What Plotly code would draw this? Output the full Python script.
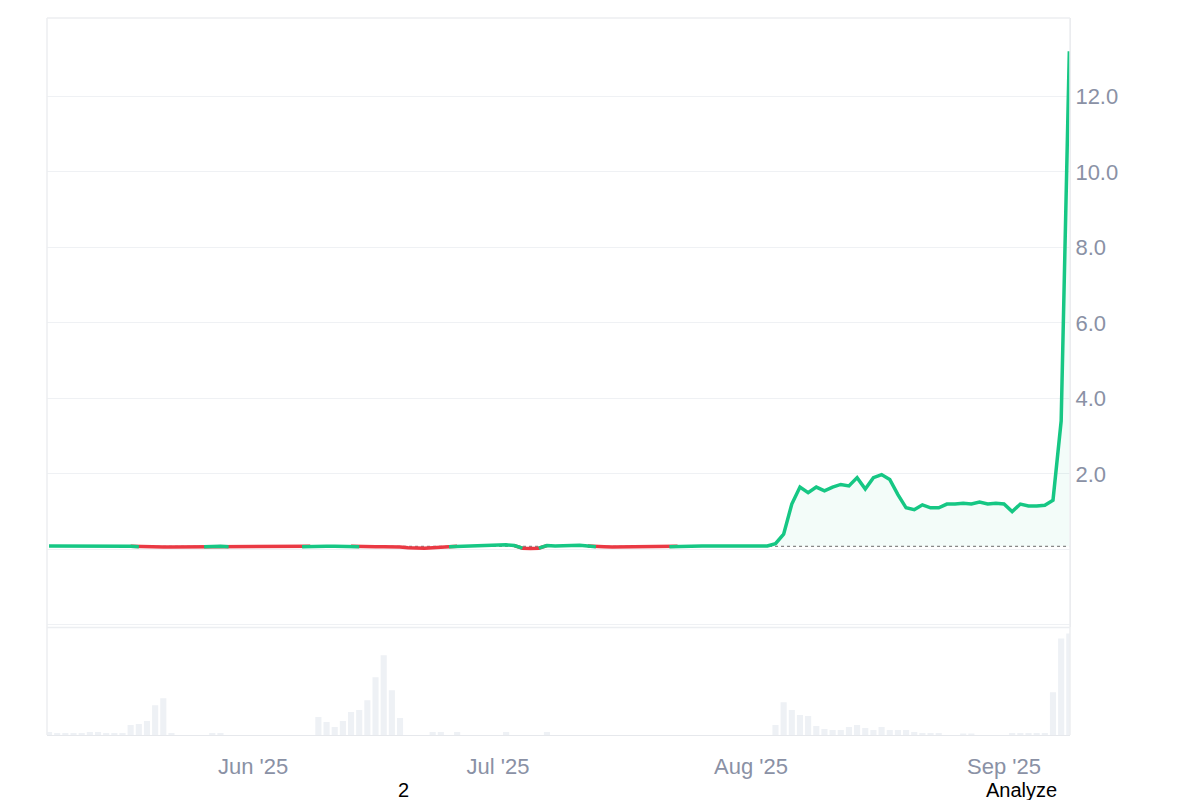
import pandas as pd
import plotly.graph_objects as go

dates = pd.date_range("2025-05-07", "2025-09-09", freq="D")
base_value = 0.08

price = [
    0.09, 0.09, 0.09, 0.09, 0.09, 0.09, 0.10, 0.10, 0.09, 0.09,
    0.08, 0.07, 0.07, 0.07, 0.06, 0.06, 0.06, 0.06, 0.07, 0.07,
    0.08, 0.08, 0.07, 0.07, 0.07, 0.07, 0.06, 0.07, 0.07, 0.07,
    0.07, 0.07, 0.08, 0.08, 0.08, 0.08, 0.08, 0.08, 0.07, 0.07,
    0.07, 0.07, 0.07, 0.06, 0.04, 0.03, 0.03, 0.04, 0.06, 0.07,
    0.08, 0.09, 0.10, 0.11, 0.12, 0.13, 0.12, 0.10, 0.03, 0.02,
    0.03, 0.10, 0.09, 0.10, 0.11, 0.11, 0.09, 0.07, 0.07, 0.06,
    0.06, 0.06, 0.06, 0.07, 0.07, 0.07, 0.07, 0.08, 0.08, 0.08,
    0.09, 0.09, 0.09, 0.09, 0.09, 0.09, 0.09, 0.09, 0.09, 0.15,
    0.40, 1.20, 1.65, 1.50, 1.65, 1.55, 1.65, 1.72, 1.68, 1.90,
    1.60, 1.90, 1.98, 1.85, 1.45, 1.10, 1.05, 1.18, 1.10, 1.10,
    1.20, 1.20, 1.22, 1.20, 1.25, 1.20, 1.22, 1.20, 1.00, 1.20,
    1.15, 1.15, 1.17, 1.30, 3.40, 13.20,
]

volume = [
    3, 2, 2, 2, 2, 3, 3, 2, 2, 2,
    10, 11, 14, 30, 37, 2, 0, 0, 0, 0,
    2, 2, 0, 0, 0, 0, 0, 0, 0, 0,
    0, 0, 0, 18, 13, 8, 14, 23, 25, 35,
    58, 80, 45, 17, 0, 0, 0, 3, 3, 0,
    3, 0, 0, 0, 0, 0, 3, 0, 0, 0,
    0, 3, 0, 0, 0, 0, 0, 0, 0, 0,
    0, 0, 0, 0, 0, 0, 0, 0, 0, 0,
    0, 0, 0, 0, 0, 0, 0, 0, 0, 10,
    33, 25, 20, 19, 9, 6, 5, 5, 8, 10,
    7, 5, 8, 5, 5, 5, 3, 2, 2, 2,
    0, 0, 1, 1, 0, 0, 0, 0, 2, 2,
    2, 2, 2, 43, 97, 102,
]

# split into green (above base) and red (below base) pieces
green, red = [], []
for i, v in enumerate(price):
    up = v >= base_value
    prev_up = price[i - 1] >= base_value if i > 0 else up
    next_up = price[i + 1] >= base_value if i < len(price) - 1 else up
    green.append(v if (up or prev_up or next_up) else None)
    red.append(v if (not up or not prev_up or not next_up) else None)

fig = go.Figure()
fig.add_trace(go.Bar(x=dates, y=volume, marker_color="#eef1f5", yaxis="y2",
                     marker_line_width=0, width=86400000 * 0.75))
fig.add_trace(go.Scatter(x=dates, y=[base_value] * len(dates), mode="lines",
                         line=dict(color="#888", width=1.3, dash="dot")))
fig.add_trace(go.Scatter(x=dates, y=[max(v, base_value) for v in price], mode="lines",
                         line=dict(width=0), fill="tonexty",
                         fillcolor="rgba(22,199,132,0.05)"))
fig.add_trace(go.Scatter(x=dates, y=red, mode="lines",
                         line=dict(color="#ea3943", width=3.5)))
fig.add_trace(go.Scatter(x=dates, y=green, mode="lines",
                         line=dict(color="#16c784", width=3.5)))

tick_font = dict(family="Liberation Sans, Arial", size=22, color="#8a91a5")
fig.update_layout(
    width=1200, height=800, showlegend=False,
    plot_bgcolor="white", paper_bgcolor="white",
    margin=dict(l=39, r=138, t=10, b=73, autoexpand=False),
    bargap=0.2,
    xaxis=dict(type="date", anchor="y2", range=["2025-05-06 18:00", "2025-09-09 02:00"],
               tickvals=["2025-06-01", "2025-07-01", "2025-08-01", "2025-09-01"],
               tickformat="%b '%y", tickfont=tick_font, showgrid=False,
               showline=True, linecolor="#e6e8ec", ticks="outside", ticklen=12,
               tickcolor="white"),
    yaxis=dict(domain=[0.15, 1], range=[-2.07, 14.08], side="right", anchor="x",
               tickvals=[-2, 0, 2, 4, 6, 8, 10, 12],
               ticktext=["", "", "2.0", "4.0", "6.0", "8.0", "10.0", "12.0"],
               tickfont=tick_font, gridcolor="#eff1f4", zeroline=False,
               showline=True, linecolor="#e6e8ec", ticks="", ticklen=0),
    yaxis2=dict(domain=[0, 0.15], range=[0, 108], showticklabels=False, anchor="x",
                showgrid=False, zeroline=False),
)
ann_font = dict(family="Liberation Sans, Arial", size=20, color="black")
fig.add_annotation(text="2", xref="paper", yref="paper", x=(403 - 8 - 39) / 1023, y=-0.095,
                   xanchor="center", showarrow=False, font=ann_font)
fig.add_annotation(text="Analyze", xref="paper", yref="paper", x=(1021 - 8 - 39) / 1023, y=-0.095,
                   xanchor="center", showarrow=False, font=ann_font)
# frame lines: pane separator, left, right and top borders
for x0, x1, y0, y1 in [(0, 1, 0.15, 0.15), (0, 0, 0, 1), (1, 1, 0, 1), (0, 1, 1, 1)]:
    fig.add_shape(type="line", xref="paper", yref="paper", x0=x0, x1=x1, y0=y0, y1=y1,
                  line=dict(color="#eceef1", width=1.5))
fig.write_html("out.html")
